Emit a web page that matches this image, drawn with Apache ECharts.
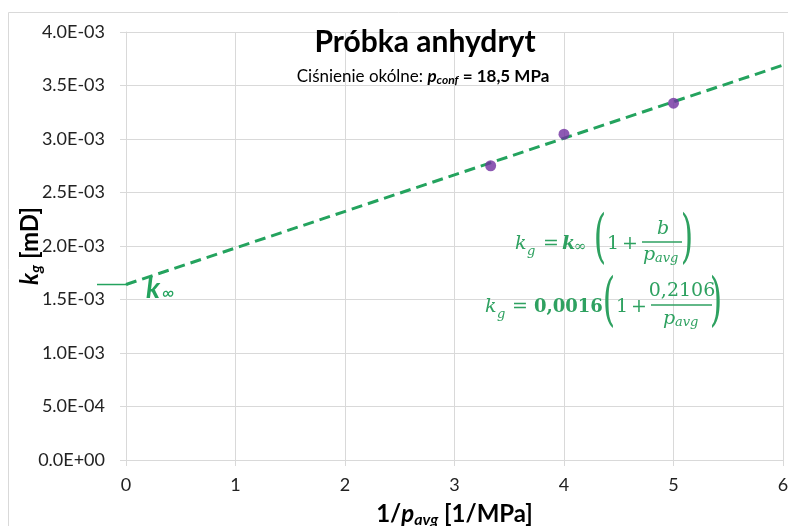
<!DOCTYPE html>
<html>
<head>
<meta charset="utf-8">
<script src="https://cdn.jsdelivr.net/npm/echarts@6/dist/echarts.min.js"></script>
<style>html,body{margin:0;padding:0;background:#fff}#c{width:788px;height:526px}</style>
</head>
<body>
<div id="c"></div>
<script>
// ---- data ----
const invPavg = [3.33, 4.0, 5.0];            // 1/p_avg [1/MPa]
const kgValues = [2.75e-3, 3.045e-3, 3.335e-3]; // k_g [mD]
const trendX = [0, 6];
const trendKg = [1.64e-3, 3.69e-3];
const xTicks = [0, 1, 2, 3, 4, 5, 6];
const yTickLabels = ['0.0E+00','5.0E-04','1.0E-03','1.5E-03','2.0E-03','2.5E-03','3.0E-03','3.5E-03','4.0E-03'];

const GREEN = '#24a35e';
const TXT = '#2ea160';
const PURPLE = '#7030a0';
const GRIDC = '#d9d9d9';
const SANS = 'Lato, "Open Sans", sans-serif';
const SERIF = '"DejaVu Serif", serif';

const chart = echarts.init(document.getElementById('c'));

function yFmt(v) {
  const i = Math.round(v / 5e-4);
  return yTickLabels[i] !== undefined ? yTickLabels[i] : '';
}

const option = {
  animation: false,
  grid: { left: 126, right: 5, top: 32, bottom: 66, containLabel: false, outerBoundsMode: 'none' },
  xAxis: {
    type: 'value', min: xTicks[0], max: xTicks[xTicks.length - 1], interval: 1,
    axisLine: { show: true, lineStyle: { color: GRIDC, width: 1 } },
    axisTick: { show: true, length: 6, lineStyle: { color: GRIDC } },
    splitLine: { show: true, lineStyle: { color: GRIDC, width: 1 } },
    axisLabel: { color: '#222', fontFamily: SANS, fontSize: 18, margin: 16 },
    name: '{a|1/}{b|p}{c|avg}{a| [1/MPa]}',
    nameLocation: 'middle', nameGap: 40, nameMoveOverlap: false,
    nameTextStyle: {
      rich: {
        a: { fontFamily: SANS, fontWeight: 'bold', fontSize: 24, color: '#000' },
        b: { fontFamily: SANS, fontWeight: 'bold', fontStyle: 'italic', fontSize: 24, color: '#000' },
        c: { fontFamily: SANS, fontWeight: 'bold', fontStyle: 'italic', fontSize: 16, color: '#000', padding: [12, 0, 0, 0] }
      }
    }
  },
  yAxis: {
    type: 'value', min: 0, max: 4e-3, interval: 5e-4,
    axisLine: { show: true, lineStyle: { color: GRIDC, width: 1 } },
    axisTick: { show: true, length: 6, lineStyle: { color: GRIDC } },
    splitLine: { show: true, lineStyle: { color: GRIDC, width: 1 } },
    axisLabel: { color: '#222', fontFamily: SANS, fontSize: 18, margin: 21, formatter: yFmt },
    name: '{b|k}{c|g}{a| [mD]}',
    nameLocation: 'middle', nameGap: 82, nameRotate: 90, nameMoveOverlap: false,
    nameTextStyle: {
      rich: {
        a: { fontFamily: SANS, fontWeight: 'bold', fontSize: 24, color: '#000' },
        b: { fontFamily: SANS, fontWeight: 'bold', fontStyle: 'italic', fontSize: 24, color: '#000' },
        c: { fontFamily: SANS, fontWeight: 'bold', fontStyle: 'italic', fontSize: 16, color: '#000', padding: [12, 0, 0, 0] }
      }
    }
  },
  series: [
    {
      type: 'line', name: 'trend',
      data: trendX.map((x, i) => [x, trendKg[i]]),
      showSymbol: false, symbol: 'none',
      lineStyle: { color: GREEN, width: 3, type: [11, 6] },
      z: 2
    },
    {
      type: 'scatter', name: 'kg',
      data: invPavg.map((x, i) => [x, kgValues[i]]),
      symbolSize: 11,
      itemStyle: { color: PURPLE },
      z: 3
    }
  ]
};
chart.setOption(option);

// ---- annotations ----
const g = [];
function txt(x, y, text, font, fill, extra) {
  g.push(Object.assign({
    type: 'text', x: x, y: y, silent: true,
    style: { text: text, font: font, fill: fill, align: 'left', verticalAlign: 'middle' }
  }, extra || {}));
}
function ctxt(x, y, text, font, fill) {
  g.push({ type: 'text', x: x, y: y, silent: true,
    style: { text: text, font: font, fill: fill, align: 'center', verticalAlign: 'middle' } });
}
function richText(x, y, text, rich, align) {
  g.push({ type: 'text', x: x, y: y, silent: true,
    style: { text: text, rich: rich, align: align || 'center', verticalAlign: 'middle' } });
}
function hline(x1, x2, y, color, w) {
  g.push({ type: 'line', silent: true, shape: { x1: x1, y1: y, x2: x2, y2: y }, style: { stroke: color, lineWidth: w } });
}
function paren(x, y, ch, size) {
  g.push({ type: 'text', x: x, y: y, silent: true, scaleX: 0.55,
    style: { text: ch, font: size + 'px ' + SERIF, fill: TXT, align: 'center', verticalAlign: 'middle' } });
}

// chart border
g.push({ type: 'rect', silent: true, shape: { x: 8.5, y: 12.5, width: 900, height: 700 }, style: { fill: 'none', stroke: GRIDC, lineWidth: 1 } });

// title
ctxt(425, 42, 'Próbka anhydryt', 'bold 30px ' + SANS, '#000');
richText(423, 77, '{n|Ciśnienie okólne: }{p|p}{s|conf}{b| = 18,5 MPa}', {
  n: { fontFamily: SANS, fontSize: 17, color: '#000' },
  p: { fontFamily: SANS, fontSize: 17, fontWeight: 'bold', fontStyle: 'italic', color: '#000' },
  s: { fontFamily: SANS, fontSize: 12, fontWeight: 'bold', fontStyle: 'italic', color: '#000', padding: [6, 0, 0, 0] },
  b: { fontFamily: SANS, fontSize: 17, fontWeight: 'bold', color: '#000' }
});

// k-infinity label at intercept
const p0 = chart.convertToPixel({ gridIndex: 0 }, [trendX[0], trendKg[0]]);
hline(97, p0[0] + 2, p0[1], GREEN, 1.5);
txt(146, p0[1] + 4, 'k', 'italic bold 28px ' + SANS, GREEN);
txt(162, p0[1] + 9, '∞', 'italic 18px ' + SANS, GREEN);

// equation 1
const I = 'italic 19px ' + SERIF, IS = 'italic 13px ' + SERIF, R = '19px ' + SERIF, BI = 'italic bold 19px ' + SERIF;
let y1 = 244;
txt(515, y1, 'k', I, TXT);
txt(527, y1 + 8, 'g', IS, TXT);
txt(543, y1, '=', R, TXT);
txt(562, y1, 'k', BI, TXT);
txt(574, y1 + 3, '∞', '15px ' + SERIF, TXT);
paren(600, y1 - 3, '(', 58);
txt(607, y1, '1', R, TXT);
txt(622, y1, '+', R, TXT);
hline(642, 682, y1 - 2, TXT, 1.3);
ctxt(663, y1 - 15, 'b', I, TXT);
txt(643, y1 + 11, 'p', I, TXT);
txt(655, y1 + 15, 'avg', IS, TXT);
paren(687, y1 - 3, ')', 58);

// equation 2
let y2 = 307;
txt(485, y2, 'k', I, TXT);
txt(497, y2 + 8, 'g', IS, TXT);
txt(512, y2, '=', R, TXT);
txt(534, y2, '0,0016', 'bold 18px ' + SERIF, TXT);
paren(609, y2 - 3, '(', 58);
txt(616, y2, '1', R, TXT);
txt(631, y2, '+', R, TXT);
hline(651, 712, y2 - 2, TXT, 1.3);
ctxt(682, y2 - 16, '0,2106', R, TXT);
txt(663, y2 + 12, 'p', I, TXT);
txt(675, y2 + 16, 'avg', IS, TXT);
paren(716, y2 - 3, ')', 58);

chart.setOption({ graphic: { elements: g } });
</script>
</body>
</html>
